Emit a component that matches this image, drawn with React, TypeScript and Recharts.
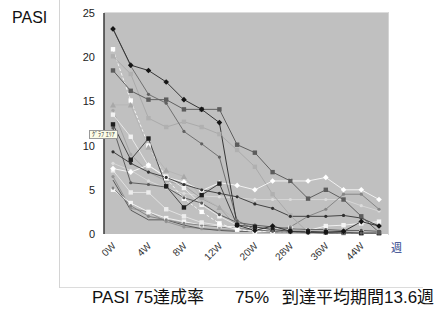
import { CartesianGrid, Line, LineChart, XAxis, YAxis } from "recharts";

const weeks = ["0W", "2W", "4W", "6W", "8W", "10W", "12W", "16W", "20W", "24W", "28W", "32W", "36W", "40W", "44W", "48W"];
const yTicks = [0, 5, 10, 15, 20, 25];

// PASI per patient, one value per visit
const pt01 = [23.2, 19.1, 18.5, 17.2, 15.2, 14.1, 12.6, 1.0, 0.4, 0.9, 0.3, 0.2, 0.2, 0.3, 1.4, 0.9];
const pt02 = [18.5, 16.2, 15.2, 15.2, 14.1, 14.1, 14.1, 10.1, 9.2, 7.0, 6.0, 4.0, 5.0, 3.9, 2.0, 0.2];
const pt03 = [23.2, 19.0, 15.8, 14.8, 11.6, 10.2, 8.7, 1.5, 0.5, 0.3, 0.2, 0.2, 0.1, 0.1, 0.1, 0.1];
const pt04 = [20.1, 18.1, 13.1, 12.1, 12.7, 12.1, 11.3, 9.5, 7.6, 4.5, 2.1, 0.2, 0.2, 0.1, 0.1, 0.1];
const pt05 = [12.4, 8.4, 10.8, 5.4, 3.0, 4.4, 5.7, 1.0, 0.8, 0.5, 0.3, 0.3, 0.2, 0.2, 0.1, 0.1];
const pt06 = [7.4, 7.0, 7.8, 6.4, 5.9, 4.9, 5.8, 5.5, 5.0, 6.0, 6.0, 6.0, 6.4, 5.0, 5.0, 3.9];
const pt07 = [14.6, 14.6, 9.8, 7.2, 6.5, 4.2, 3.0, 1.5, 0.8, 0.5, 0.4, 0.3, 0.3, 0.3, 0.2, 0.2];
const pt08 = [20.9, 15.1, 10.0, 6.3, 4.0, 2.5, 1.2, 0.5, 0.3, 0.3, 0.2, 0.2, 0.2, 0.1, 0.1, 0.1];
const pt09 = [13.5, 11.0, 7.7, 6.5, 5.2, 3.3, 2.0, 1.0, 0.6, 0.4, 0.3, 0.3, 0.3, 0.2, 0.2, 0.2];
const pt10 = [7.2, 4.7, 4.7, 2.8, 2.0, 1.3, 1.0, 0.5, 0.3, 0.3, 0.2, 0.2, 0.2, 0.2, 0.2, 0.2];
const pt11 = [6.5, 2.9, 2.5, 1.4, 0.8, 0.6, 0.5, 0.4, 0.3, 0.3, 0.2, 0.2, 0.2, 0.1, 0.1, 0.1];
const pt12 = [6.1, 2.7, 1.6, 1.6, 1.0, 0.6, 0.4, 0.3, 0.3, 0.2, 0.2, 0.2, 0.1, 0.1, 0.1, 0.1];
const pt13 = [12.0, 5.8, 5.6, 5.3, 4.1, 3.5, 2.2, 1.3, 1.0, 0.8, 0.6, 0.5, 0.5, 0.4, 0.4, 0.3];
const pt14 = [5.2, 3.2, 2.0, 1.6, 1.2, 1.0, 0.8, 0.6, 0.5, 0.4, 0.8, 2.0, 2.8, 4.5, 4.5, 2.8];
const pt15 = [9.3, 8.0, 7.0, 6.4, 5.6, 5.0, 4.6, 4.2, 3.4, 2.9, 2.0, 2.0, 2.0, 2.1, 1.8, 0.9];
const pt16 = [8.0, 7.2, 6.0, 5.2, 4.6, 4.3, 4.2, 4.1, 3.9, 3.9, 3.9, 3.9, 3.9, 3.9, 3.2, 2.6];
const pt17 = [5.0, 3.5, 2.5, 1.8, 1.4, 1.0, 0.9, 0.8, 0.6, 0.5, 0.7, 0.4, 0.9, 1.0, 1.2, 1.4];
const pt18 = [14.0, 9.0, 7.0, 6.0, 5.5, 4.0, 3.0, 0.8, 0.3, 0.2, 0.2, 0.1, 0.1, 0.1, 0.1, 0.1];

const series = [
  { key: "pt16", values: pt16, stroke: "#d6d6d6", mark: "circle", fill: "#dcdcdc" },
  { key: "pt11", values: pt11, stroke: "#949494", mark: "circle", fill: "#949494" },
  { key: "pt12", values: pt12, stroke: "#5a5a5a", mark: "none", fill: "#5a5a5a" },
  { key: "pt17", values: pt17, stroke: "#f0f0f0", mark: "square", fill: "#f4f4f4" },
  { key: "pt18", values: pt18, stroke: "#a4a4a4", mark: "circle", fill: "#a8a8a8" },
  { key: "pt14", values: pt14, stroke: "#858585", mark: "circle", fill: "#858585" },
  { key: "pt10", values: pt10, stroke: "#e2e2e2", mark: "square", fill: "#ececec" },
  { key: "pt09", values: pt09, stroke: "#e8e8e8", mark: "square", fill: "#f2f2f2" },
  { key: "pt08", values: pt08, stroke: "#f4f4f4", mark: "square", fill: "#ffffff", dash: "3 2" },
  { key: "pt07", values: pt07, stroke: "#b6b6b6", mark: "triangle", fill: "#a8a8a8" },
  { key: "pt04", values: pt04, stroke: "#aaaaaa", mark: "square", fill: "#b0b0b0" },
  { key: "pt06", values: pt06, stroke: "#f2f2f2", mark: "diamond", fill: "#ffffff" },
  { key: "pt13", values: pt13, stroke: "#606060", mark: "circle", fill: "#5a5a5a" },
  { key: "pt15", values: pt15, stroke: "#444444", mark: "circle", fill: "#303030" },
  { key: "pt05", values: pt05, stroke: "#474747", mark: "square", fill: "#1e1e1e" },
  { key: "pt03", values: pt03, stroke: "#707070", mark: "circle", fill: "#606060" },
  { key: "pt02", values: pt02, stroke: "#606060", mark: "square", fill: "#5c5c5c" },
  { key: "pt01", values: pt01, stroke: "#363636", mark: "diamond", fill: "#151515" },
];

const rows = weeks.map((week, i) => {
  const row: Record<string, string | number> = { week };
  series.forEach((s) => {
    row[s.key] = s.values[i];
  });
  return row;
});

function renderMark(p: any, mark: string, fill: string) {
  const { cx, cy, key } = p;
  if (cx == null || cy == null || mark === "none") return <g key={key} />;
  if (mark === "square")
    return <rect key={key} x={cx - 2.2} y={cy - 2.2} width={4.4} height={4.4} fill={fill} />;
  if (mark === "diamond")
    return <polygon key={key} points={`${cx},${cy - 2.8} ${cx + 2.8},${cy} ${cx},${cy + 2.8} ${cx - 2.8},${cy}`} fill={fill} />;
  if (mark === "triangle")
    return <polygon key={key} points={`${cx},${cy - 3} ${cx + 3},${cy + 2.5} ${cx - 3},${cy + 2.5}`} fill={fill} />;
  return <circle key={key} cx={cx} cy={cy} r={1.6} fill={fill} />;
}

function WeekTick(props: any) {
  const { x, y, payload } = props;
  return (
    <g transform={`translate(${x + 1},${y + 10})`}>
      <text
        textAnchor="end"
        dy="0.35em"
        transform="rotate(-45)"
        fontSize={10}
        fill="#333"
        fontFamily="'Liberation Sans', Arial, sans-serif"
      >
        {payload.value}
      </text>
    </g>
  );
}

const font = "'Liberation Sans', 'Noto Sans CJK JP', Arial, sans-serif";
const caption = { position: "absolute" as const, top: 288, fontSize: 17, lineHeight: "20px", color: "#111", whiteSpace: "nowrap" as const };

export default function App() {
  return (
    <div
      style={{
        position: "absolute",
        left: 0,
        top: 0,
        width: 439,
        height: 317,
        background: "#fff",
        overflow: "hidden",
        fontFamily: font,
      }}
    >
      <div style={{ position: "absolute", left: 12, top: 9, fontSize: 16, lineHeight: "18px", color: "#111" }}>PASI</div>
      <div style={{ position: "absolute", left: 59, top: 0, width: 1, height: 288, background: "#d4d4d4" }} />
      <div style={{ position: "absolute", left: 60, top: 287, width: 363, height: 1, background: "#dcdcdc" }} />

      <div style={{ position: "absolute", left: 0, top: 0 }}>
        <LineChart width={439} height={290} data={rows} margin={{ top: 13, right: 51, left: 64, bottom: 0 }}>
          <CartesianGrid horizontal={false} vertical={false} fill="#c0c0c0" />
          <XAxis
            dataKey="week"
            interval={1}
            height={56}
            padding={{ left: 9, right: 9 }}
            tickSize={0}
            tickMargin={0}
            axisLine={false}
            tickLine={false}
            tick={<WeekTick />}
          />
          <YAxis
            domain={[0, 25]}
            ticks={yTicks}
            width={40}
            tickSize={0}
            tickMargin={9}
            tickLine={false}
            axisLine={{ stroke: "#3a3a3a", strokeWidth: 1.5 }}
            tick={{ fontSize: 11, fill: "#222", fontFamily: "'Liberation Sans', Arial, sans-serif" }}
          />
          {series.map((s) => (
            <Line
              key={s.key}
              type="linear"
              dataKey={s.key}
              stroke={s.stroke}
              strokeWidth={1}
              strokeDasharray={s.dash}
              dot={(p: any) => renderMark(p, s.mark, s.fill)}
              activeDot={false}
              isAnimationActive={false}
            />
          ))}
        </LineChart>
      </div>

      {/* light frame on top and right of the plot area */}
      <div
        style={{
          position: "absolute",
          left: 104,
          top: 12,
          width: 284,
          height: 222,
          borderTop: "1px solid #dcdcdc",
          borderRight: "1px solid #d4d4d4",
          pointerEvents: "none",
        }}
      />

      <div
        style={{
          position: "absolute",
          left: 89,
          top: 130,
          fontSize: 6,
          lineHeight: "7px",
          padding: "0 2px",
          background: "#fbfbe6",
          border: "1px solid #9a9a9a",
          color: "#333",
        }}
      >
        ｸﾞﾗﾌ ｴﾘｱ
      </div>
      <div style={{ position: "absolute", left: 391, top: 242, fontSize: 11, lineHeight: "13px", color: "#1f3c88" }}>週</div>

      <div style={{ ...caption, left: 92 }}>PASI 75達成率</div>
      <div style={{ ...caption, left: 235 }}>75%</div>
      <div style={{ ...caption, left: 282 }}>到達平均期間13.6週</div>
    </div>
  );
}
